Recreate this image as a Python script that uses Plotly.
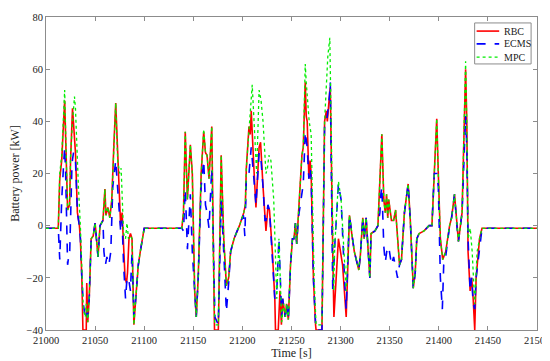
import plotly.graph_objects as go

# ---- data ----
rbc_t = [21000, 21012.5, 21014, 21016, 21019, 21021, 21022, 21024, 21025, 21027, 21029, 21030, 21032, 21034, 21035,
         21036.5, 21037.6, 21041, 21041.5, 21042.5, 21044, 21046, 21048, 21050, 21053, 21055, 21058, 21060, 21061,
         21063, 21065, 21067, 21069, 21071, 21073, 21075, 21076, 21077.5, 21079, 21080.5, 21082, 21083, 21084.5,
         21086, 21087.6, 21089.5, 21091, 21094, 21096, 21100, 21138.3, 21140, 21141.8, 21144, 21147, 21149, 21151.4,
         21153, 21155, 21158, 21160.6, 21162.4, 21164, 21166, 21168.8, 21170, 21171.6, 21175.5, 21177.7, 21178.4,
         21181, 21183.7, 21186, 21188, 21191.5, 21197, 21201.4, 21203, 21204, 21206.7, 21208, 21209, 21211.7,
         21213.8, 21217, 21218.5, 21221, 21223, 21224, 21226, 21227.6, 21230.5, 21233, 21233.7, 21236.5, 21238.3,
         21239.7, 21241, 21243.6, 21245, 21246.8, 21249, 21251, 21252.5, 21254, 21255.3, 21257, 21260.6, 21262,
         21264, 21265, 21266, 21267.7, 21269, 21270, 21272.3, 21274.5, 21275, 21281, 21283.7, 21285.5, 21286.5,
         21288.7, 21289.5, 21292, 21293.2, 21297.8, 21302, 21305.7, 21309, 21312, 21314, 21318.5, 21320, 21322.6,
         21324, 21326, 21329.8, 21331, 21335, 21338, 21341, 21342, 21344, 21345.5, 21346.8, 21348, 21349, 21351.8,
         21354, 21356, 21360, 21362, 21365, 21368.8, 21371, 21374, 21376, 21377.6, 21380, 21385, 21390, 21393,
         21395.4, 21397.9, 21399.5, 21401.6, 21404, 21407, 21411, 21413, 21416, 21418.4, 21420, 21423.7, 21427.3,
         21428.5, 21429.8, 21431.9, 21433.5, 21435, 21436.6, 21438, 21441.5, 21444, 21500]
rbc_p = [-1, -1, 18, 25, 48, 15, 6, 8, 25, 45, 30, 28, 5, 0, -5,
         -20, -40, -40, -22, -37, -28, -5, -4, 1, -12, 0, 2, 14, 4,
         7, 3, 10, 30, 47, 28, 5, 0, 5, -10, -20, -22, -18, -5,
         -3, -5, -38, -30, -15, -10, -1, -1, 5, 36, 10, 31, 20, -25,
         -35, -20, 20, 36, 28, 27, 18, 38, -5, -40, -40, 10, 27,
         -5, -23, -20, -10, -5, 0, 5, 8, 22, 38, 35, 44, 22,
         7, 30, 32, 15, 0, -2, 7, 6, -10, -28, -40, -40, -25,
         -38, -28, -35, -30, -36, -15, -5, -5, 1, -7, 5, 27, 30,
         55, 42, 40, 18, 25, 20, -20, -38, -40, -40, 40, 44, 40,
         50, 53, -10, -35, -5, -15, -35, 4, -5, -10, -17, -12, 3,
         -5, 3, -20, -3, -2, 0, 30, 35, 10, 5, 12, 3, 10, 2,
         2, 6, -15, -13, 5, 16, 2, -24, -18, -5, -3, -2, 0, 0,
         20, 41, 20, -5, -13, -10, 0, 3, 12, 0, -6, 5, 60,
         40, -10, -25, -20, -28, -40, -20, -5, -1, -1]

ecms_t = [21000, 21012.5, 21014, 21016, 21018, 21019, 21020, 21022, 21023, 21024, 21026.5, 21028, 21030, 21032,
          21034, 21035, 21036.5, 21038, 21040, 21041, 21042.5, 21044, 21046, 21048, 21050, 21053, 21055, 21058,
          21059, 21060.5, 21062, 21064, 21066, 21068, 21071, 21073, 21075, 21076, 21077.5, 21079, 21081, 21082.5,
          21084, 21086, 21087.6, 21089.5, 21091, 21094, 21096, 21100, 21138.3, 21140, 21141.8, 21144, 21147, 21149,
          21151.4, 21153, 21155, 21158, 21160.6, 21162.4, 21164, 21166, 21168.8, 21170, 21172, 21175.5, 21177.7,
          21178.4, 21181, 21183.7, 21186, 21188, 21191.5, 21197, 21201, 21202.5, 21204, 21206.7, 21209, 21211.7,
          21213.8, 21217, 21219, 21221, 21223, 21224, 21226, 21227.6, 21230.5, 21233, 21235, 21237.2, 21240, 21241,
          21243.6, 21245, 21246.8, 21249, 21251, 21252.5, 21254, 21255.3, 21257, 21260.6, 21262, 21264, 21265,
          21266, 21267.7, 21269, 21270, 21272.3, 21274.5, 21275, 21281, 21283.7, 21285.5, 21286.5, 21288.7,
          21289.5, 21292, 21293.2, 21294, 21297.8, 21300.5, 21304, 21305.7, 21309, 21312, 21314, 21318.5, 21320,
          21322.6, 21324, 21326, 21329.8, 21331, 21335, 21338, 21340, 21341, 21342, 21344, 21345.5, 21347, 21349,
          21351.8, 21354, 21356, 21358, 21360, 21362, 21365, 21368.8, 21371, 21374, 21376, 21377.6, 21380, 21385,
          21390, 21393, 21395.4, 21397.9, 21399.5, 21401.6, 21403.6, 21405, 21407, 21411, 21413, 21416, 21418.4,
          21420, 21423.7, 21427.3, 21428.5, 21429.8, 21431.9, 21433.5, 21435, 21436.6, 21438, 21441.5, 21444, 21500]
ecms_p = [-1, -1, -13, 10, 24, 30, 20, -15, -12, -12, 24, 28, 25, 5,
          0, -5, -20, -30, -35, -33, -35, -28, -5, -4, 1, -12, 0, 2,
          -10, -15, -12, -15, -10, 15, 25, 15, 5, -2, 2, -15, -28, -20,
          -20, -25, -10, -35, -30, -15, -10, -1, -1, -2, 14, -9, 12, -10,
          -25, -35, -20, 15, 25, 8, 5, -1, 22, -5, -35, -38, 10,
          10, -10, -33, -22, -10, -5, 0, 4, -4, 18, 20, 30, 18,
          8, 28, 25, 15, 2, 2, 8, 6, -10, -28, -25, -5, -35, -28,
          -35, -30, -36, -15, -5, -5, 1, -7, 3, 12, 16, 36, 33,
          30, 18, 22, 18, -20, -38, -40, -40, 38, 40, 42, 50,
          55, -25, -10, -8, 16, 10, -20, -32, 4, -5, -10, -17, -12,
          3, -5, 3, -20, -3, -2, 0, 5, 12, 15, -8, -14, -10, -8,
          -15, -12, -16, -20, -15, -13, 5, 16, 2, -24, -18, -5, -3, -2,
          0, 0, 20, 20, 15, -20, -32, -15, -12, 0, 3, 12, 0,
          -6, 5, 42, 30, -5, -25, -20, -30, -32, -20, -8, -1, -1]

mpc_t = [21000, 21012.5, 21014, 21016, 21019, 21021, 21022, 21024, 21025, 21027, 21029, 21030, 21032, 21033, 21035,
         21036.5, 21038, 21040, 21041, 21042.5, 21044, 21046, 21048, 21050, 21053, 21055, 21058, 21060, 21061,
         21063, 21065, 21067, 21069, 21071, 21073, 21075, 21076.5, 21078, 21079, 21081, 21082.5, 21084, 21086,
         21087.6, 21089.5, 21091, 21094, 21096, 21100, 21138.3, 21140, 21141.8, 21144, 21147, 21149, 21151.4,
         21153, 21155, 21158, 21160.6, 21162.4, 21164, 21166, 21168.8, 21170, 21171.8, 21175.5, 21177.7, 21178.4,
         21181, 21183.7, 21186, 21188, 21191.5, 21197, 21201.4, 21203, 21204, 21206.7, 21210, 21214.5, 21217,
         21219, 21221, 21224, 21225.5, 21227, 21229, 21231.9, 21233.5, 21235, 21237.2, 21240, 21242, 21244, 21245,
         21246.8, 21249, 21251, 21252.5, 21254, 21255.3, 21257, 21260.6, 21262, 21264, 21265, 21266.5, 21268,
         21270, 21272, 21273, 21275, 21281, 21283.7, 21286, 21287, 21289, 21292, 21293, 21294, 21297.8, 21300.5,
         21304, 21305.7, 21309, 21312, 21314, 21318.5, 21320, 21322.6, 21324, 21326, 21329.8, 21331, 21335, 21338,
         21341, 21342, 21344, 21345.5, 21346.8, 21348, 21349, 21351.8, 21354, 21356, 21360, 21362, 21365, 21368.8,
         21371, 21374, 21376, 21377.6, 21380, 21385, 21390, 21393, 21395.4, 21397.9, 21399.5, 21401.6, 21404,
         21407, 21411, 21413, 21416, 21418.4, 21420, 21423.7, 21427.3, 21428.5, 21429.8, 21432, 21434, 21436.6,
         21439, 21441.5, 21444, 21500]
mpc_p = [-1, -1, 20, 27, 52, 15, 6, 8, 26, 40, 49.5, 45, 20, 15, 0,
         -15, -32, -35, -30, -37, -28, -5, -4, 1, -12, 0, 2, 14, 4,
         7, 3, 10, 30, 47, 25, 20, 22, 5, -3, -5, 1, -5, -4,
         -5, -38, -30, -15, -10, -1, -1, 5, 36, 10, 31, 20, -25,
         -35, -20, 20, 37, 28, 27, 18, 38, -5, -38, -38, 10, 27,
         -5, -23, -20, -10, -5, 0, 5, 8, 22, 38, 54, 20, 52,
         48, 40, 20, 22, 27, 25, 10, -15, -28, -5, -37, -30, -35, -30,
         -36, -15, -5, -5, 1, -7, 5, 27, 30, 62, 55, 45, 40,
         35, 0, -20, -38, -38, 40, 62, 65, 72, -10, -25, -8, 17, 10,
         -15, -25, 4, -5, -10, -17, -12, 3, -5, 3, -20, -3, -2, 0,
         30, 35, 10, 5, 12, 3, 10, 2, 2, 6, -15, -13, 5, 16,
         2, -24, -18, -5, -3, -2, 0, 0, 20, 41, 20, -5, -13,
         -10, 0, 3, 12, 0, -6, 5, 63, 40, -5, -1, -10, -30,
         -10, -5, -1, -1]

x_ticks = [21000, 21050, 21100, 21150, 21200, 21250, 21300, 21350, 21400, 21450, 21500]
y_ticks = [-40, -20, 0, 20, 40, 60, 80]
y_tick_text = ["\u221240", "\u221220", "0", "20", "40", "60", "80"]

series_names = ["RBC", "ECMS", "MPC"]
series_colors = ["#ff0000", "#0000ff", "#00ee00"]
series_dash = ["solid", "dash", "dot"]
series_width = [1.6, 1.6, 1.3]

FONT = "Liberation Serif, Times New Roman, serif"
AX = "#8c8c8c"
TXT = "#222222"

fig = go.Figure()
for t, p, name, col, dash, w in zip([rbc_t, ecms_t, mpc_t], [rbc_p, ecms_p, mpc_p],
                                    series_names, series_colors, series_dash, series_width):
    fig.add_trace(go.Scatter(x=t, y=p, mode="lines", name=name, showlegend=False,
                             line=dict(color=col, width=w, dash=dash)))

axis_common = dict(showgrid=False, zeroline=False, showline=True, linecolor=AX, linewidth=1,
                   mirror="ticks", ticks="inside", ticklen=4, tickcolor=AX, automargin=False,
                   tickfont=dict(family=FONT, size=10.5, color=TXT))
fig.update_xaxes(range=[21000, 21500], tickvals=x_ticks, ticktext=[str(v) for v in x_ticks],
                 title=dict(text="Time [s]", font=dict(family=FONT, size=12, color=TXT), standoff=3),
                 **axis_common)
fig.update_yaxes(range=[-40, 80], tickvals=y_ticks, ticktext=y_tick_text,
                 title=dict(text="Battery power [kW]", font=dict(family=FONT, size=12, color=TXT), standoff=8),
                 **axis_common)

# compact legend box (paper coordinates, top-right corner of the plot)
box_x0, box_x1, box_y0, box_y1 = 0.873, 0.988, 0.850, 0.981
line_x0, line_x1, text_x = 0.877, 0.923, 0.929
row_y = [0.955, 0.914, 0.872]
shapes = [dict(type="rect", xref="paper", yref="paper", x0=box_x0, x1=box_x1, y0=box_y0, y1=box_y1,
               line=dict(color=AX, width=1), fillcolor="white", layer="above")]
annotations = []
for name, col, dash, w, ry in zip(series_names, series_colors, series_dash, series_width, row_y):
    shapes.append(dict(type="line", xref="paper", yref="paper", x0=line_x0, x1=line_x1, y0=ry, y1=ry,
                       line=dict(color=col, width=w, dash=dash), layer="above"))
    annotations.append(dict(xref="paper", yref="paper", x=text_x, y=ry, text=name, showarrow=False,
                            xanchor="left", yanchor="middle", font=dict(family=FONT, size=10, color=TXT)))

fig.update_layout(width=550, height=361, margin=dict(l=38, r=21, t=9, b=39),
                  paper_bgcolor="white", plot_bgcolor="white",
                  font=dict(family=FONT, size=11, color=TXT),
                  shapes=shapes, annotations=annotations, showlegend=False)
fig.write_html("out.html")
